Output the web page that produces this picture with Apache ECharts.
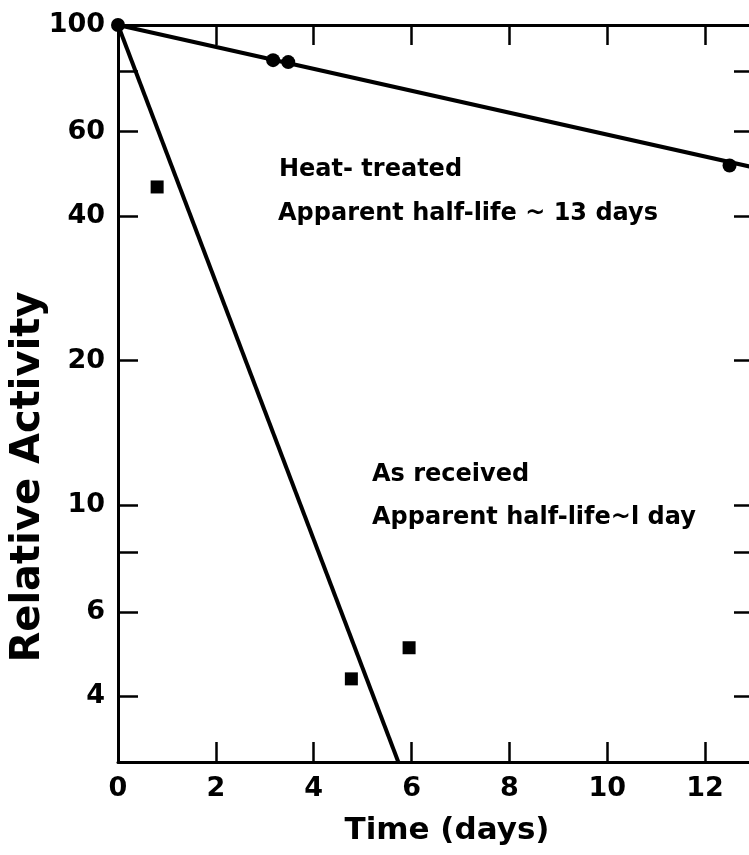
<!DOCTYPE html>
<html>
<head>
<meta charset="utf-8">
<script src="https://cdn.jsdelivr.net/npm/echarts@6/dist/echarts.min.js"></script>
<style>
  html, body { margin: 0; padding: 0; background: #fff; }
  #chart { width: 749px; height: 855px; }
</style>
</head>
<body>
<div id="chart"></div>
<script>
// x axis: time in days
const xTicks = [0, 2, 4, 6, 8, 10, 12];
// y axis: relative activity (log)
const yTicks = [4, 6, 8, 10, 20, 40, 60, 80];
const yLabels = [4, 6, 10, 20, 40, 60, 100];

// heat-treated samples (circles)
const heatPoints = [[0, 100], [3.17, 84.5], [3.48, 83.7], [12.5, 51]];
const heatFit = [[0, 100], [13, 50.5]];

// as received samples (squares)
const asRecvPoints = [[0.8, 46], [4.77, 4.35], [5.95, 5.05]];
const asRecvFit = [[0, 100], [5.73, 2.92]];

const ink = '#000';
const font = '"DejaVu Sans"';

const chart = echarts.init(document.getElementById('chart'));

const axisLine = { show: true, onZero: false, lineStyle: { color: ink, width: 3 } };
const tickStyle = { color: ink, width: 2.5 };
const labelStyle = { color: ink, fontSize: 27, fontWeight: 'bold', fontFamily: 'DejaVu Sans' };

chart.setOption({
  backgroundColor: '#fff',
  animation: false,
  // plot runs past the right edge of the page, as in the scan
  grid: { left: 118, top: 25, width: 636, height: 737, outerBoundsMode: 'none' },
  xAxis: [
    {
      type: 'value', min: 0, max: 13, position: 'bottom',
      axisLine: axisLine,
      axisTick: { inside: true, length: 20, lineStyle: tickStyle, customValues: xTicks },
      axisLabel: Object.assign({ customValues: xTicks, margin: 13 }, labelStyle),
      splitLine: { show: false }
    },
    {
      type: 'value', min: 0, max: 13, position: 'top',
      axisLine: axisLine,
      axisTick: { inside: true, length: 20, lineStyle: tickStyle, customValues: xTicks },
      axisLabel: { show: false },
      splitLine: { show: false }
    }
  ],
  yAxis: [
    {
      type: 'log', min: 2.92, max: 100, position: 'left',
      axisLine: axisLine,
      axisTick: { inside: true, length: 20, lineStyle: tickStyle, customValues: yTicks },
      axisLabel: Object.assign({ customValues: yLabels, margin: 13 }, labelStyle),
      splitLine: { show: false }
    },
    {
      type: 'log', min: 2.92, max: 100, position: 'right',
      axisLine: axisLine,
      axisTick: { inside: true, length: 20, lineStyle: tickStyle, customValues: yTicks },
      axisLabel: { show: false },
      splitLine: { show: false }
    }
  ],
  series: [
    {
      type: 'line', data: heatFit, showSymbol: false, clip: true,
      lineStyle: { color: ink, width: 4 }
    },
    {
      type: 'line', data: asRecvFit, showSymbol: false, clip: true,
      lineStyle: { color: ink, width: 4 }
    },
    {
      type: 'scatter', data: heatPoints, symbol: 'circle', symbolSize: 14,
      itemStyle: { color: ink, opacity: 1 }
    },
    {
      type: 'scatter', data: asRecvPoints, symbol: 'rect', symbolSize: 13,
      itemStyle: { color: ink, opacity: 1 }
    }
  ],
  graphic: [
    { type: 'text', x: 279, y: 169.5, style: { text: 'Heat- treated', font: 'bold 24px ' + font, fill: ink, verticalAlign: 'middle' } },
    { type: 'text', x: 278, y: 213.5, style: { text: 'Apparent half-life ~ 13 days', font: 'bold 24px ' + font, fill: ink, verticalAlign: 'middle' } },
    { type: 'text', x: 372, y: 474.5, style: { text: 'As received', font: 'bold 24px ' + font, fill: ink, verticalAlign: 'middle' } },
    { type: 'text', x: 372, y: 517.5, style: { text: 'Apparent half-life~l day', font: 'bold 24px ' + font, fill: ink, verticalAlign: 'middle' } },
    {
      type: 'text', x: 29, y: 477, rotation: Math.PI / 2,
      style: { text: 'Relative Activity', font: 'bold 40px ' + font, fill: ink, align: 'center', verticalAlign: 'middle' }
    },
    {
      type: 'text', x: 447, y: 831,
      style: { text: 'Time (days)', font: 'bold 31px ' + font, fill: ink, align: 'center', verticalAlign: 'middle' }
    }
  ]
});
</script>
</body>
</html>
